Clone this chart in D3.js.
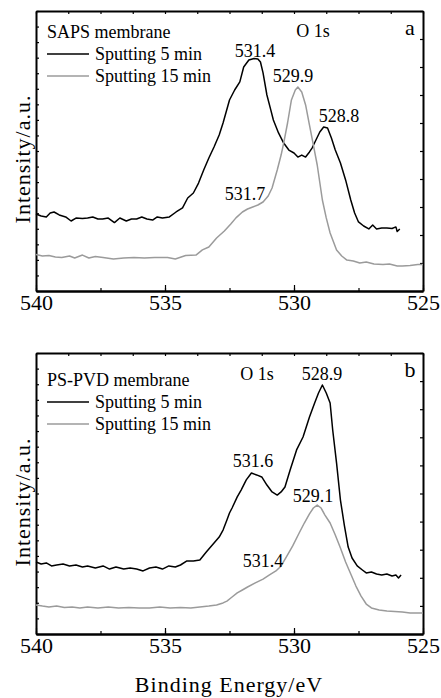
<!DOCTYPE html>
<html>
<head>
<meta charset="utf-8" />
<title>O 1s XPS spectra</title>
<style>
    body { margin: 0; background: #fff; }
    text { font-family: "Liberation Serif", "Times New Roman", serif; fill: #000; }
    .line { fill: none; stroke-width: 1.5px; stroke-linejoin: round; }
    .frame path, .frame line { stroke: #000; }
    .frame path { stroke-width: 2px; }
    .frame line { stroke-width: 1.2px; }
</style>
<script src="https://cdnjs.cloudflare.com/ajax/libs/d3/7.8.5/d3.min.js"></script>
</head>
<body>
<script>
// binding energy ticks
var energyTicks = [540, 535, 530, 525];

// panel a: SAPS membrane, [energy, intensity]
var sapsSput5 = [
    [540.0, 49.5], [539.8, 48.2], [539.6, 47.6], [539.45, 50.1], [539.3, 50.8], [539.1, 48.9],
    [538.85, 47.6], [538.64, 45.0], [538.45, 46.9], [538.2, 46.6], [538.0, 46.9], [537.8, 47.6],
    [537.6, 46.3], [537.42, 46.3], [537.2, 46.9], [536.96, 44.0], [536.75, 46.9], [536.5, 45.0],
    [536.3, 46.3], [536.1, 46.3], [535.9, 47.6], [535.7, 46.3], [535.48, 45.6], [535.3, 47.6],
    [535.1, 46.9], [534.83, 47.6], [534.57, 50.8], [534.32, 53.4], [534.12, 59.8], [533.9, 63.0],
    [533.7, 69.4], [533.5, 77.8], [533.3, 85.5], [533.1, 92.6], [532.9, 100.3], [532.75, 108.0],
    [532.5, 122.8], [532.3, 129.2], [532.1, 134.4], [531.95, 144.0], [531.75, 148.5], [531.55, 149.5],
    [531.4, 149.2], [531.3, 147.2], [531.2, 140.2], [531.05, 126.0], [530.9, 116.4], [530.8, 109.9],
    [530.6, 101.6], [530.4, 95.1], [530.2, 90.6], [530.0, 88.7], [529.85, 86.1], [529.7, 87.4],
    [529.55, 86.1], [529.4, 89.4], [529.3, 91.9], [529.15, 97.1], [529.0, 102.2], [528.85, 105.4],
    [528.7, 104.8], [528.55, 98.4], [528.4, 90.6], [528.2, 82.3], [528.0, 71.4], [527.8, 58.5],
    [527.65, 50.1], [527.5, 44.4], [527.3, 41.8], [527.1, 39.9], [526.95, 42.4], [526.8, 39.9],
    [526.6, 40.5], [526.4, 40.5], [526.2, 40.2], [526.05, 41.2], [526.0, 38.3], [525.9, 39.9]
];
var sapsSput15 = [
    [540.0, 23.5], [539.75, 22.5], [539.5, 22.8], [539.25, 21.9], [539.0, 21.5], [538.7, 22.5],
    [538.5, 21.2], [538.2, 23.1], [537.95, 21.2], [537.7, 22.2], [537.4, 21.5], [537.0, 20.6],
    [536.6, 21.2], [536.2, 21.5], [535.8, 21.2], [535.4, 21.5], [534.9, 21.5], [534.6, 20.6],
    [534.2, 22.8], [533.8, 23.1], [533.55, 26.4], [533.3, 28.3], [533.0, 34.1], [532.7, 38.6],
    [532.45, 43.1], [532.25, 47.0], [532.0, 50.8], [531.8, 52.7], [531.6, 54.0], [531.4, 55.3],
    [531.2, 57.2], [531.0, 61.1], [530.85, 66.2], [530.65, 77.8], [530.5, 87.4], [530.4, 95.1],
    [530.25, 108.0], [530.1, 122.8], [529.95, 129.2], [529.85, 131.1], [529.7, 127.9], [529.55, 119.6],
    [529.4, 106.7], [529.25, 93.9], [529.1, 81.0], [528.9, 58.5], [528.75, 47.0], [528.6, 37.3],
    [528.35, 26.4], [528.15, 22.5], [527.95, 19.9], [527.7, 19.3], [527.45, 18.0], [527.2, 18.6],
    [526.9, 17.4], [526.55, 17.0], [526.3, 17.4], [526.0, 16.1], [525.8, 16.1], [525.5, 16.4],
    [525.2, 17.0], [525.0, 17.0]
];
var sapsPeaks = [
    ['531.4', 531.51, 150.5], ['529.9', 530.04, 134.5], ['528.8', 528.26, 108.6],
    ['531.7', 531.9, 58.5], ['O 1s', 529.26, 163.3]
];

// panel b: PS-PVD membrane
var pvdSput5 = [
    [540.0, 46.1], [539.8, 44.8], [539.6, 45.5], [539.4, 43.6], [539.2, 44.2], [538.95, 44.8],
    [538.7, 43.6], [538.45, 44.2], [538.2, 42.9], [538.0, 43.6], [537.7, 42.3], [537.4, 43.6],
    [537.15, 41.6], [536.9, 42.9], [536.6, 41.6], [536.35, 42.3], [536.1, 41.6], [535.85, 40.4],
    [535.6, 42.3], [535.35, 42.9], [535.1, 41.6], [534.85, 43.6], [534.6, 42.9], [534.4, 44.2],
    [534.15, 46.8], [533.9, 46.8], [533.65, 47.4], [533.4, 52.5], [533.1, 58.3], [532.9, 62.1],
    [532.75, 66.6], [532.6, 73.0], [532.5, 77.5], [532.4, 80.7], [532.2, 87.8], [532.05, 92.2],
    [531.85, 98.7], [531.65, 103.1], [531.45, 101.9], [531.25, 100.6], [531.05, 95.4], [530.85, 91.0],
    [530.65, 89.0], [530.5, 91.0], [530.35, 94.2], [530.15, 105.1], [529.9, 117.9], [529.65, 126.2],
    [529.4, 139.0], [529.2, 148.0], [529.05, 154.4], [528.9, 159.5], [528.75, 154.4], [528.6, 148.0],
    [528.5, 130.7], [528.35, 109.5], [528.2, 85.8], [528.05, 69.8], [527.9, 55.7], [527.75, 48.7],
    [527.55, 43.6], [527.35, 41.0], [527.2, 39.1], [527.0, 39.7], [526.8, 38.4], [526.6, 37.8],
    [526.4, 38.4], [526.2, 37.2], [526.05, 37.8], [525.95, 35.9], [525.85, 37.8]
];
var pvdSput15 = [
    [540.0, 18.6], [539.75, 17.9], [539.5, 17.3], [539.2, 17.9], [538.9, 17.0], [538.6, 17.3],
    [538.3, 16.7], [538.0, 17.3], [537.6, 16.7], [537.2, 17.3], [536.8, 16.7], [536.4, 17.0],
    [536.0, 16.7], [535.6, 16.7], [535.2, 17.3], [534.8, 16.7], [534.4, 17.0], [534.0, 16.7],
    [533.65, 17.3], [533.3, 17.9], [533.0, 18.6], [532.75, 19.9], [532.6, 21.1], [532.4, 23.7],
    [532.2, 26.3], [532.0, 28.2], [531.8, 30.1], [531.5, 32.7], [531.2, 35.2], [530.95, 37.8],
    [530.7, 40.4], [530.5, 43.6], [530.3, 49.3], [530.05, 56.4], [529.8, 64.7], [529.6, 71.1],
    [529.4, 76.9], [529.25, 80.7], [529.1, 82.6], [528.95, 80.7], [528.8, 76.2], [528.6, 71.1],
    [528.4, 63.4], [528.2, 55.1], [528.0, 46.1], [527.8, 38.4], [527.6, 30.7], [527.4, 24.3],
    [527.2, 19.2], [527.0, 16.7], [526.7, 15.4], [526.4, 14.7], [526.1, 14.4], [525.8, 14.1],
    [525.5, 13.5], [525.2, 13.5], [525.0, 13.5]
];
var pvdPeaks = [
    ['O 1s', 531.43, 162.7], ['528.9', 528.91, 162.7], ['531.6', 531.59, 107.0],
    ['529.1', 529.26, 84.6], ['531.4', 531.2, 42.9]
];

var seriesNames = ['Sputting 5 min', 'Sputting 15 min'];
var seriesColors = ['#000000', '#9b9b9b'];

var svg = d3.select('body').append('svg')
    .attr('width', 441)
    .attr('height', 698);

var left = 36, right = 423;

var panels = [
    { letter: 'a', title: 'SAPS membrane', data: [sapsSput5, sapsSput15], peaks: sapsPeaks,
      top: 11, bottom: 291, labelY: 159, legendY: 38 },
    { letter: 'b', title: 'PS-PVD membrane', data: [pvdSput5, pvdSput15], peaks: pvdPeaks,
      top: 353, bottom: 634, labelY: 502, legendY: 386 }
];

panels.forEach(function(p) {
    var x = d3.scaleLinear().domain([540, 525]).range([left, right]);
    var y = d3.scaleLinear().domain([0, 180]).range([p.bottom, p.top]);

    // frame + ticks (all pointing inward)
    svg.append('g').attr('class', 'frame')
        .attr('transform', 'translate(0,' + p.bottom + ')')
        .call(d3.axisBottom(x).tickValues(d3.range(540, 524, -2.5)).tickSizeInner(-3).tickSizeOuter(0).tickFormat(''));
    svg.append('g').attr('class', 'frame')
        .attr('transform', 'translate(0,' + p.bottom + ')')
        .call(d3.axisBottom(x).tickValues(energyTicks).tickSizeInner(-6).tickSizeOuter(0).tickPadding(3).tickFormat(d3.format('d')))
        .call(function(g) {
            g.selectAll('text').style('font-size', '22px').attr('dy', '0.71em');
        });
    svg.append('g').attr('class', 'frame')
        .attr('transform', 'translate(0,' + p.top + ')')
        .call(d3.axisTop(x).tickValues(d3.range(540, 524, -1.25)).tickSizeInner(-3).tickSizeOuter(0).tickFormat(''));
    svg.append('g').attr('class', 'frame')
        .attr('transform', 'translate(' + left + ',0)')
        .call(d3.axisLeft(y).tickValues(d3.range(0, 181, 10)).tickSizeInner(-3).tickSizeOuter(0).tickFormat(''));
    svg.append('g').attr('class', 'frame')
        .attr('transform', 'translate(' + right + ',0)')
        .call(d3.axisRight(y).tickValues(d3.range(0, 181, 18)).tickSizeInner(-3).tickSizeOuter(0).tickFormat(''));

    // spectra
    var line = d3.line()
        .x(function(d) { return x(d[0]); })
        .y(function(d) { return y(d[1]); });
    p.data.forEach(function(s, i) {
        svg.append('path')
            .datum(s)
            .attr('class', 'line')
            .style('stroke', seriesColors[i])
            .attr('d', line);
    });

    // peak labels
    svg.selectAll(null)
        .data(p.peaks)
        .enter().append('text')
        .attr('x', function(d) { return x(d[1]); })
        .attr('y', function(d) { return y(d[2]); })
        .attr('text-anchor', 'middle')
        .style('font-size', '18px')
        .text(function(d) { return d[0]; });

    // panel letter
    svg.append('text')
        .attr('x', right - 13)
        .attr('y', p.top + 24)
        .attr('text-anchor', 'middle')
        .style('font-size', '22px')
        .text(p.letter);

    // legend
    svg.append('text')
        .attr('x', left + 11)
        .attr('y', p.legendY)
        .style('font-size', '18px')
        .text(p.title);
    seriesNames.forEach(function(name, i) {
        var ly = p.legendY + 22 * (i + 1);
        svg.append('line')
            .attr('x1', left + 11).attr('x2', left + 53)
            .attr('y1', ly - 6).attr('y2', ly - 6)
            .style('stroke', seriesColors[i])
            .style('stroke-width', 1.5);
        svg.append('text')
            .attr('x', left + 59)
            .attr('y', ly)
            .style('font-size', '18px')
            .text(name);
    });

    // y-axis title
    svg.append('text')
        .attr('transform', 'translate(30,' + p.labelY + ') rotate(-90)')
        .attr('text-anchor', 'middle')
        .style('font-size', '22px')
        .style('letter-spacing', '1px')
        .text('Intensity/a.u.');
});

// x-axis title
svg.append('text')
    .attr('x', 229)
    .attr('y', 692)
    .attr('text-anchor', 'middle')
    .style('font-size', '22px')
    .style('letter-spacing', '1px')
    .text('Binding Energy/eV');
</script>
</body>
</html>
